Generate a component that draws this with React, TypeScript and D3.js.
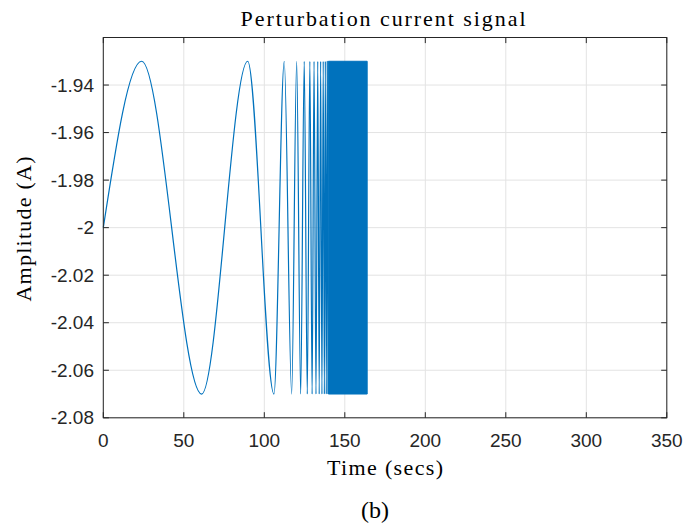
import React from "react";
import * as d3 from "d3";

// Extrema (time in s, amplitude in A)
const extremaTimes = [
  0, 23.8, 61.1, 89.7, 106.0, 112.4, 117.0, 120.1, 122.6, 124.8, 126.7, 128.3,
  129.7, 130.9, 132.1, 133.2, 134.1, 135.0, 135.8, 136.6, 137.3, 137.9, 138.5,
  139.1, 139.6,
];
const extremaValues = [
  -2.0, -1.93, -2.07, -1.93, -2.07, -1.93, -2.07, -1.93, -2.07, -1.93, -2.07,
  -1.93, -2.07, -1.93, -2.07, -1.93, -2.07, -1.93, -2.07, -1.93, -2.07, -1.93,
  -2.07, -1.93, -2.07,
];
// Dense (unresolvable) oscillation block
const denseTimes = [139.8, 163.9];
const denseHigh = [-1.93, -1.93];
const denseLow = [-2.07, -2.07];

const xTicks = [0, 50, 100, 150, 200, 250, 300, 350];
const yTicks = [-2.08, -2.06, -2.04, -2.02, -2.0, -1.98, -1.96, -1.94];
const yTickLabels = ["-2.08", "-2.06", "-2.04", "-2.02", "-2", "-1.98", "-1.96", "-1.94"];

const W = 688;
const H = 529;
const L = 103.3;
const R = 666.8;
const T = 37.5;
const B = 417.8;
const LINE = "#0072BD";
const AX = "#262626";
const GRID = "#e3e3e3";
const SANS = "'Liberation Sans', Arial, Helvetica, sans-serif";
const SERIF = "'Liberation Serif', 'Times New Roman', serif";

export default function App() {
  const x = d3.scaleLinear().domain([0, 350]).range([L, R]);
  const y = d3.scaleLinear().domain([-2.08, -1.92]).range([B, T]);

  const pts: [number, number][] = extremaTimes.map((t, i) => [t, extremaValues[i]]);
  const line = d3
    .line<[number, number]>()
    .x((d) => x(d[0]))
    .y((d) => y(d[1]))
    .curve(d3.curveMonotoneX);
  const pathD = line(pts) || "";

  const bandPts = denseTimes.map((t, i) => ({ t, hi: denseHigh[i], lo: denseLow[i] }));
  const area = d3
    .area<{ t: number; hi: number; lo: number }>()
    .x((d) => x(d.t))
    .y0((d) => y(d.lo))
    .y1((d) => y(d.hi));
  const bandD = area(bandPts) || "";

  const tl = 5.6;

  return (
    <div style={{ position: "fixed", left: 0, top: 0 }}>
      <svg width={W} height={H} viewBox={`0 0 ${W} ${H}`} style={{ display: "block", background: "#fff" }}>
        <rect x={0} y={0} width={W} height={H} fill="#fff" />
        {/* grid */}
        {xTicks.map((t) => (
          <line key={"gx" + t} x1={x(t)} x2={x(t)} y1={T} y2={B} stroke={GRID} strokeWidth={1} />
        ))}
        {yTicks.map((t) => (
          <line key={"gy" + t} x1={L} x2={R} y1={y(t)} y2={y(t)} stroke={GRID} strokeWidth={1} />
        ))}
        {/* data */}
        <path d={pathD} fill="none" stroke={LINE} strokeWidth={1.2} strokeLinejoin="round" />
        <path d={bandD} fill={LINE} stroke={LINE} strokeWidth={1} />
        {/* axes box */}
        <rect x={L} y={T} width={R - L} height={B - T} fill="none" stroke={AX} strokeWidth={1} />
        {/* ticks */}
        {xTicks.map((t) => (
          <g key={"tx" + t}>
            <line x1={x(t)} x2={x(t)} y1={B} y2={B - tl} stroke={AX} strokeWidth={1} />
            <line x1={x(t)} x2={x(t)} y1={T} y2={T + tl} stroke={AX} strokeWidth={1} />
            <text x={x(t)} y={447} textAnchor="middle" fontFamily={SANS} fontSize={19} fill={AX}>
              {t}
            </text>
          </g>
        ))}
        {yTicks.map((t, i) => (
          <g key={"ty" + t}>
            <line x1={L} x2={L + tl} y1={y(t)} y2={y(t)} stroke={AX} strokeWidth={1} />
            <line x1={R} x2={R - tl} y1={y(t)} y2={y(t)} stroke={AX} strokeWidth={1} />
            <text x={94} y={y(t)} dy="0.35em" textAnchor="end" fontFamily={SANS} fontSize={19} fill={AX}>
              {yTickLabels[i]}
            </text>
          </g>
        ))}
        {/* labels */}
        <text x={383} y={26} textAnchor="middle" fontFamily={SERIF} fontSize={22} fill="#000"
          textLength={285} lengthAdjust="spacing">
          Perturbation current signal
        </text>
        <text x={385} y={475} textAnchor="middle" fontFamily={SERIF} fontSize={22} fill="#000"
          textLength={116} lengthAdjust="spacing">
          Time (secs)
        </text>
        <text x={375} y={518} textAnchor="middle" fontFamily={SERIF} fontSize={24} fill="#000">
          (b)
        </text>
        <text
          transform={`translate(31,229) rotate(-90)`}
          textAnchor="middle"
          fontFamily={SERIF}
          fontSize={22}
          fill="#000"
          textLength={145}
          lengthAdjust="spacing"
        >
          Amplitude (A)
        </text>
      </svg>
    </div>
  );
}
